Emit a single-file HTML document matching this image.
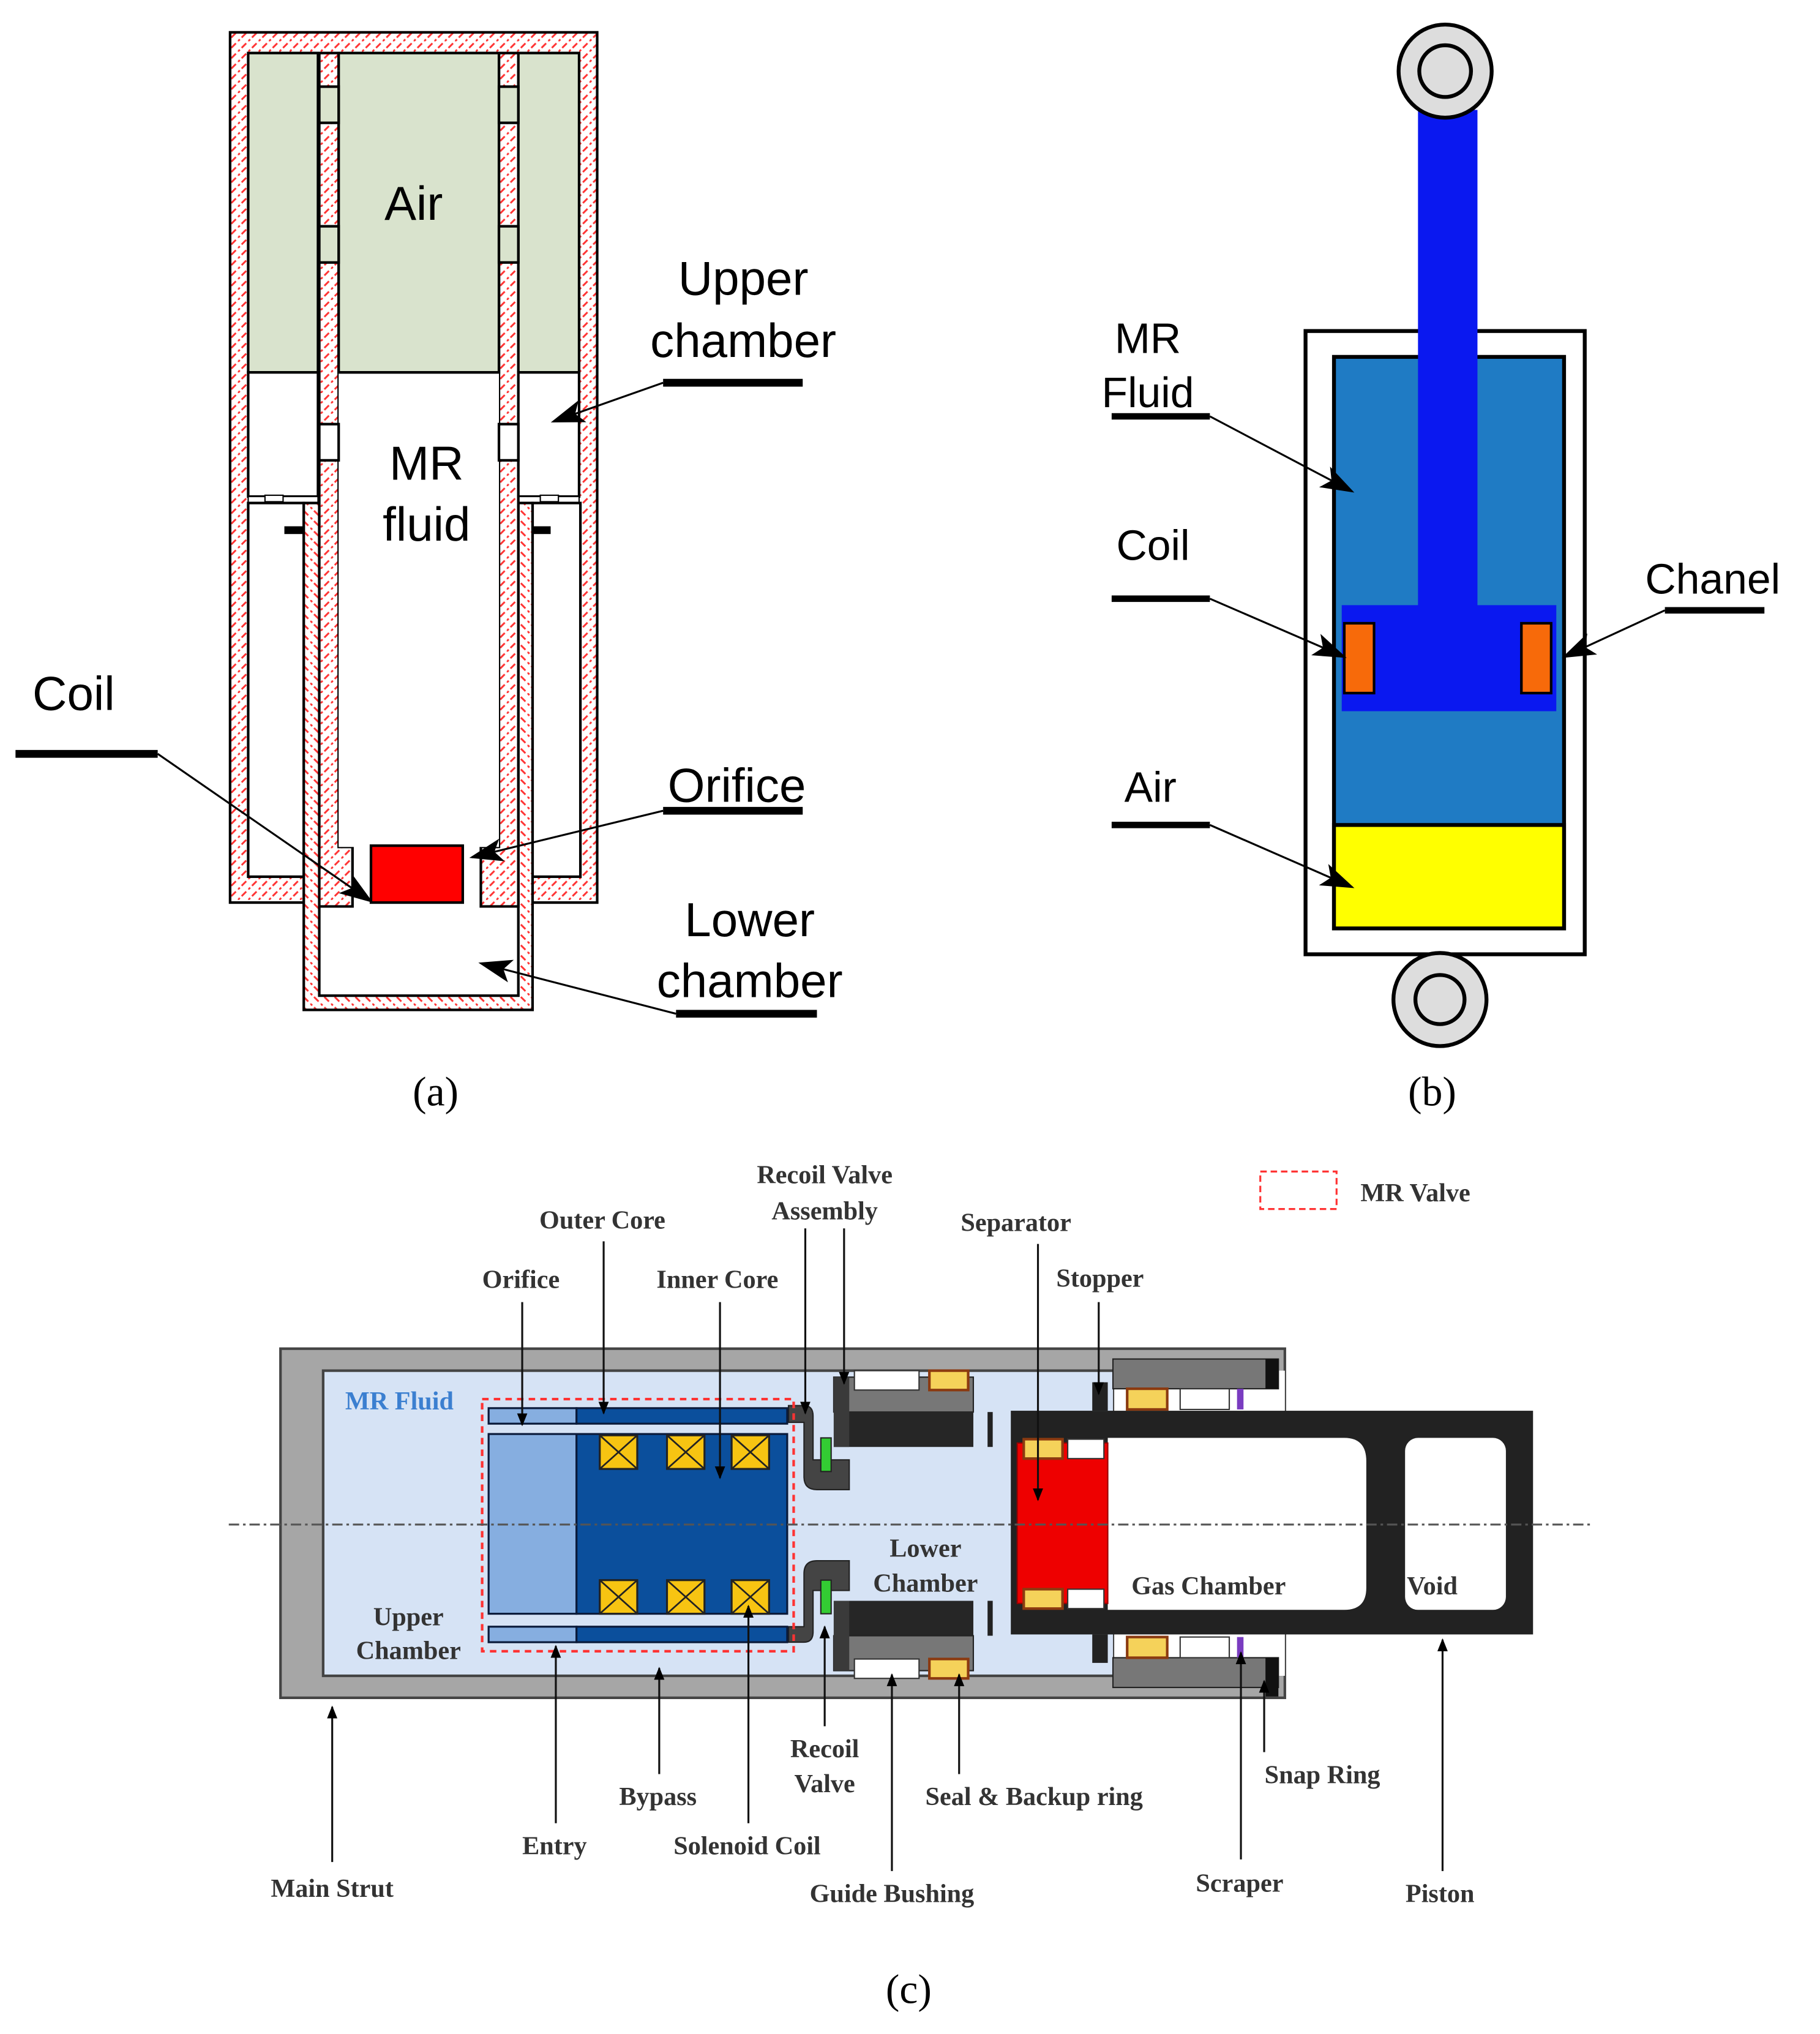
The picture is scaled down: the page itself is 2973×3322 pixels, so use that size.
<!DOCTYPE html>
<html><head><meta charset="utf-8"><style>html,body{margin:0;padding:0;background:#fff}svg{display:block}</style></head>
<body>
<svg width="2973" height="3322" viewBox="0 0 1408 1573" preserveAspectRatio="none" xmlns="http://www.w3.org/2000/svg">
<defs>
<pattern id="hA" patternUnits="userSpaceOnUse" width="8" height="8">
<rect width="8" height="8" fill="#fff"/><path d="M-2,10 L10,-2" stroke="#f33" stroke-width="1.4" stroke-dasharray="5,2"/></pattern>
<pattern id="hB" patternUnits="userSpaceOnUse" width="8" height="8">
<rect width="8" height="8" fill="#fff"/><path d="M-2,-2 L10,10" stroke="#f33" stroke-width="1.4" stroke-dasharray="5,2"/></pattern>
<marker id="big" markerUnits="userSpaceOnUse" markerWidth="26" markerHeight="18" refX="24" refY="9" orient="auto"><path d="M0,0 L26,9 L0,18 L6,9Z" fill="#000"/></marker>
<marker id="sm" markerUnits="userSpaceOnUse" markerWidth="10" markerHeight="10" refX="9" refY="4" orient="auto"><path d="M0,0 L10,4 L0,8Z" fill="#000"/></marker>
</defs>
<rect width="1408" height="1573" fill="#fff"/>

<!-- (a) -->
<g stroke="#000" stroke-width="2">
<rect x="178" y="25" width="284" height="673" fill="url(#hA)"/>
<rect x="192" y="41" width="54" height="247" fill="#d9e3cd"/>
<rect x="400" y="41" width="48" height="247" fill="#d9e3cd"/>
<rect x="192" y="288" width="54" height="96" fill="#fff"/>
<rect x="400" y="288" width="48" height="96" fill="#fff"/>
<rect x="192" y="384" width="54" height="5" fill="#fff" stroke-width="1"/>
<rect x="205" y="383" width="14" height="5" fill="#fff" stroke-width="1"/>
<rect x="400" y="384" width="48" height="5" fill="#fff" stroke-width="1"/>
<rect x="418" y="383" width="14" height="5" fill="#fff" stroke-width="1"/>
<rect x="192" y="389" width="43" height="289" fill="#fff"/>
<rect x="412" y="389" width="37" height="289" fill="#fff"/>
<rect x="235" y="389" width="177" height="392" fill="url(#hB)"/>
<rect x="247" y="389" width="154" height="381" fill="#fff"/>
<path d="M247,41 H262 V655 H272.7 V701 H247Z" fill="url(#hA)"/>
<path d="M386,41 H401 V701 H372 V655 H386Z" fill="url(#hA)"/>
<rect x="262" y="41" width="124" height="247" fill="#d9e3cd"/>
<rect x="262" y="288" width="124" height="367" fill="#fff" stroke="none"/>
<line x1="262" y1="288" x2="386" y2="288"/>
<rect x="247" y="67" width="15" height="28" fill="#d9e3cd"/>
<rect x="247" y="175" width="15" height="28" fill="#d9e3cd"/>
<rect x="247" y="328" width="15" height="28" fill="#fff"/>
<rect x="386" y="67" width="15" height="28" fill="#d9e3cd"/>
<rect x="386" y="175" width="15" height="28" fill="#d9e3cd"/>
<rect x="386" y="328" width="15" height="28" fill="#fff"/>
<rect x="287" y="654" width="71" height="44" fill="#f00"/>
</g>
<rect x="220" y="407" width="15" height="6" fill="#000"/>
<rect x="412" y="407" width="14" height="6" fill="#000"/>
<g font-family="Liberation Sans, sans-serif" font-size="37" text-anchor="middle" fill="#000">
<text x="320" y="170">Air</text>
<text x="575" y="228">Upper</text><text x="575" y="276">chamber</text>
<text x="330" y="371">MR</text><text x="330" y="418">fluid</text>
<text x="57" y="549">Coil</text>
<text x="570" y="620">Orifice</text>
<text x="580" y="724">Lower</text><text x="580" y="771">chamber</text>
</g>
<g stroke="#000" stroke-width="6"><line x1="513" y1="296" x2="621" y2="296"/><line x1="12" y1="583" x2="122" y2="583"/><line x1="513" y1="627" x2="621" y2="627"/><line x1="523" y1="784" x2="632" y2="784"/></g>
<g stroke="#000" stroke-width="1.5" fill="none">
<line x1="513" y1="296" x2="428" y2="326" marker-end="url(#big)"/>
<line x1="122" y1="583" x2="287" y2="697" marker-end="url(#big)"/>
<line x1="513" y1="627" x2="365" y2="663" marker-end="url(#big)"/>
<line x1="523" y1="784" x2="372" y2="745" marker-end="url(#big)"/>
</g>
<text x="337" y="855" font-family="Liberation Serif, serif" font-size="32" text-anchor="middle">(a)</text>

<!-- (b) -->
<rect x="1010" y="256" width="216" height="482" fill="#fff" stroke="#000" stroke-width="3"/>
<rect x="1032" y="276" width="178" height="442" fill="#1f7bc4" stroke="#000" stroke-width="3"/>
<rect x="1032" y="638" width="178" height="80" fill="#ff0" stroke="#000" stroke-width="3"/>
<rect x="1097" y="85" width="46" height="385" fill="#0a18f0"/>
<rect x="1038" y="468" width="166" height="82" fill="#0a18f0"/>
<rect x="1040" y="482" width="23" height="54" fill="#f76a0a" stroke="#000" stroke-width="2"/>
<rect x="1177" y="482" width="23" height="54" fill="#f76a0a" stroke="#000" stroke-width="2"/>
<circle cx="1118" cy="55" r="36" fill="#ddd" stroke="#000" stroke-width="3"/><circle cx="1118" cy="55" r="20" fill="#ddd" stroke="#000" stroke-width="3"/>
<circle cx="1114" cy="773" r="36" fill="#ddd" stroke="#000" stroke-width="3"/><circle cx="1114" cy="773" r="19" fill="#ddd" stroke="#000" stroke-width="3"/>
<g font-family="Liberation Sans, sans-serif" font-size="33" text-anchor="middle">
<text x="888" y="273">MR</text><text x="888" y="315">Fluid</text>
<text x="892" y="433">Coil</text><text x="890" y="620">Air</text><text x="1325" y="459">Chanel</text>
</g>
<g stroke="#000" stroke-width="5"><line x1="860" y1="322" x2="936" y2="322"/><line x1="860" y1="463" x2="936" y2="463"/><line x1="860" y1="638" x2="936" y2="638"/><line x1="1288" y1="472" x2="1365" y2="472"/></g>
<g stroke="#000" stroke-width="1.5">
<line x1="936" y1="322" x2="1046" y2="380" marker-end="url(#big)"/>
<line x1="936" y1="463" x2="1040" y2="508" marker-end="url(#big)"/>
<line x1="936" y1="638" x2="1046" y2="686" marker-end="url(#big)"/>
<line x1="1288" y1="472" x2="1210" y2="508" marker-end="url(#big)"/>
</g>
<text x="1108" y="855" font-family="Liberation Serif, serif" font-size="32" text-anchor="middle">(b)</text>

<!-- (c) -->
<rect x="217" y="1043" width="777" height="270" fill="#a6a6a6" stroke="#444" stroke-width="2"/>
<rect x="250" y="1060" width="612" height="236" fill="#d6e3f5" stroke="#444" stroke-width="2"/>
<rect x="862" y="1060" width="132" height="236" fill="#fff"/>
<rect x="861" y="1051" width="128" height="23" fill="#777" stroke="#222"/><rect x="979" y="1051" width="10" height="23" fill="#111"/>
<rect x="861" y="1282" width="128" height="23" fill="#777" stroke="#222"/><rect x="979" y="1282" width="10" height="30" fill="#111"/>
<rect x="872" y="1074" width="31" height="16" fill="#f5d25a" stroke="#8b3a10" stroke-width="2"/>
<rect x="913" y="1074" width="38" height="16" fill="#fff" stroke="#333"/>
<rect x="957" y="1074" width="5" height="16" fill="#7a3cc0"/>
<rect x="872" y="1266" width="31" height="16" fill="#f5d25a" stroke="#8b3a10" stroke-width="2"/>
<rect x="913" y="1266" width="38" height="16" fill="#fff" stroke="#333"/>
<rect x="957" y="1266" width="5" height="16" fill="#7a3cc0"/>
<rect x="845" y="1069" width="12" height="22" fill="#222"/><rect x="845" y="1264" width="12" height="22" fill="#222"/>
<rect x="782" y="1091" width="404" height="173" fill="#222"/>
<path d="M857,1112 H1040 Q1057,1112 1057,1130 V1228 Q1057,1245 1040,1245 H857Z" fill="#fff"/>
<rect x="1087" y="1112" width="78" height="133" rx="10" fill="#fff"/>
<rect x="787" y="1116" width="70" height="124" fill="#e00" stroke="#900"/>
<rect x="792" y="1113" width="30" height="15" fill="#f5d25a" stroke="#8b3a10" stroke-width="2"/><rect x="826" y="1113" width="28" height="15" fill="#fff" stroke="#333"/>
<rect x="792" y="1229" width="30" height="15" fill="#f5d25a" stroke="#8b3a10" stroke-width="2"/><rect x="826" y="1229" width="28" height="15" fill="#fff" stroke="#333"/>
<rect x="645" y="1065" width="108" height="27" fill="#777" stroke="#222"/><rect x="645" y="1092" width="108" height="27" fill="#262626"/>
<rect x="645" y="1065" width="12" height="54" fill="#3a3a3a"/>
<rect x="661" y="1060" width="50" height="15" fill="#fff" stroke="#333"/><rect x="719" y="1060" width="30" height="15" fill="#f5d25a" stroke="#8b3a10" stroke-width="2"/>
<rect x="645" y="1238" width="108" height="27" fill="#262626"/><rect x="645" y="1265" width="108" height="27" fill="#777" stroke="#222"/>
<rect x="645" y="1238" width="12" height="54" fill="#3a3a3a"/>
<rect x="661" y="1283" width="50" height="15" fill="#fff" stroke="#333"/><rect x="719" y="1283" width="30" height="15" fill="#f5d25a" stroke="#8b3a10" stroke-width="2"/>
<rect x="764" y="1092" width="4" height="27" fill="#222"/><rect x="764" y="1238" width="4" height="27" fill="#222"/>
<path d="M610,1087 H622 Q629,1087 629,1095 V1129 H657 V1152 H632 Q622,1152 622,1142 V1100 H610Z" fill="#444" stroke="#222"/>
<path d="M610,1270 H622 Q629,1270 629,1262 V1230 H657 V1207 H632 Q622,1207 622,1217 V1258 H610Z" fill="#444" stroke="#222"/>
<rect x="635" y="1112" width="8" height="26" fill="#3c3" stroke="#222"/><rect x="635" y="1222" width="8" height="26" fill="#3c3" stroke="#222"/>
<g stroke="#0a1a3a" stroke-width="1.5">
<rect x="378" y="1089" width="68" height="12" fill="#86aee0"/><rect x="446" y="1089" width="163" height="12" fill="#0b4f9c"/>
<rect x="378" y="1109" width="68" height="139" fill="#86aee0"/><rect x="446" y="1109" width="163" height="139" fill="#0b4f9c"/>
<rect x="378" y="1258" width="68" height="12" fill="#86aee0"/><rect x="446" y="1258" width="163" height="12" fill="#0b4f9c"/>
</g>
<g stroke="#222" stroke-width="1.5" fill="#f7c412">
<rect x="464" y="1110" width="29" height="26"/><rect x="516" y="1110" width="29" height="26"/><rect x="566" y="1110" width="29" height="26"/>
<rect x="464" y="1222" width="29" height="26"/><rect x="516" y="1222" width="29" height="26"/><rect x="566" y="1222" width="29" height="26"/>
</g>
<g stroke="#222" stroke-width="1.3">
<path d="M464,1110 L493,1136 M493,1110 L464,1136 M516,1110 L545,1136 M545,1110 L516,1136 M566,1110 L595,1136 M595,1110 L566,1136"/>
<path d="M464,1222 L493,1248 M493,1222 L464,1248 M516,1222 L545,1248 M545,1222 L516,1248 M566,1222 L595,1248 M595,1222 L566,1248"/>
</g>
<rect x="373" y="1082" width="241" height="195" fill="none" stroke="#f33" stroke-width="2" stroke-dasharray="5,4"/>
<line x1="177" y1="1179" x2="1230" y2="1179" stroke="#555" stroke-width="1.5" stroke-dasharray="8,3,2,3"/>
<rect x="975" y="906" width="59" height="29" fill="none" stroke="#f33" stroke-width="1.5" stroke-dasharray="5,3"/>
<g font-family="Liberation Serif, serif" font-weight="bold" font-size="20" text-anchor="middle" fill="#333">
<text x="638" y="915">Recoil Valve</text><text x="638" y="943">Assembly</text>
<text x="466" y="950">Outer Core</text><text x="786" y="952">Separator</text>
<text x="1095" y="929">MR Valve</text>
<text x="403" y="996">Orifice</text><text x="555" y="996">Inner Core</text><text x="851" y="995">Stopper</text>
<text x="309" y="1090" fill="#3b7fd0">MR Fluid</text>
<text x="716" y="1204">Lower</text><text x="716" y="1231">Chamber</text>
<text x="935" y="1233">Gas Chamber</text><text x="1108" y="1233">Void</text>
<text x="316" y="1257">Upper</text><text x="316" y="1283">Chamber</text>
<text x="638" y="1359">Recoil</text><text x="638" y="1386">Valve</text>
<text x="509" y="1396">Bypass</text><text x="800" y="1396">Seal &amp; Backup ring</text>
<text x="1023" y="1379">Snap Ring</text>
<text x="429" y="1434">Entry</text><text x="578" y="1434">Solenoid Coil</text>
<text x="257" y="1467">Main Strut</text><text x="690" y="1471">Guide Bushing</text>
<text x="959" y="1463">Scraper</text><text x="1114" y="1471">Piston</text>
</g>
<g stroke="#111" stroke-width="1.5">
<line x1="404" y1="1007" x2="404" y2="1102" marker-end="url(#sm)"/>
<line x1="467" y1="960" x2="467" y2="1093" marker-end="url(#sm)"/>
<line x1="557" y1="1007" x2="557" y2="1143" marker-end="url(#sm)"/>
<line x1="623" y1="950" x2="623" y2="1093" marker-end="url(#sm)"/>
<line x1="653" y1="950" x2="653" y2="1070" marker-end="url(#sm)"/>
<line x1="803" y1="962" x2="803" y2="1160" marker-end="url(#sm)"/>
<line x1="850" y1="1007" x2="850" y2="1078" marker-end="url(#sm)"/>
<line x1="257" y1="1440" x2="257" y2="1320" marker-end="url(#sm)"/>
<line x1="430" y1="1410" x2="430" y2="1273" marker-end="url(#sm)"/>
<line x1="510" y1="1372" x2="510" y2="1290" marker-end="url(#sm)"/>
<line x1="579" y1="1410" x2="579" y2="1242" marker-end="url(#sm)"/>
<line x1="638" y1="1335" x2="638" y2="1258" marker-end="url(#sm)"/>
<line x1="690" y1="1447" x2="690" y2="1295" marker-end="url(#sm)"/>
<line x1="742" y1="1372" x2="742" y2="1295" marker-end="url(#sm)"/>
<line x1="960" y1="1438" x2="960" y2="1278" marker-end="url(#sm)"/>
<line x1="978" y1="1355" x2="978" y2="1300" marker-end="url(#sm)"/>
<line x1="1116" y1="1447" x2="1116" y2="1268" marker-end="url(#sm)"/>
</g>
<text x="703" y="1549" font-family="Liberation Serif, serif" font-size="32" text-anchor="middle">(c)</text>
</svg>
</body></html>
